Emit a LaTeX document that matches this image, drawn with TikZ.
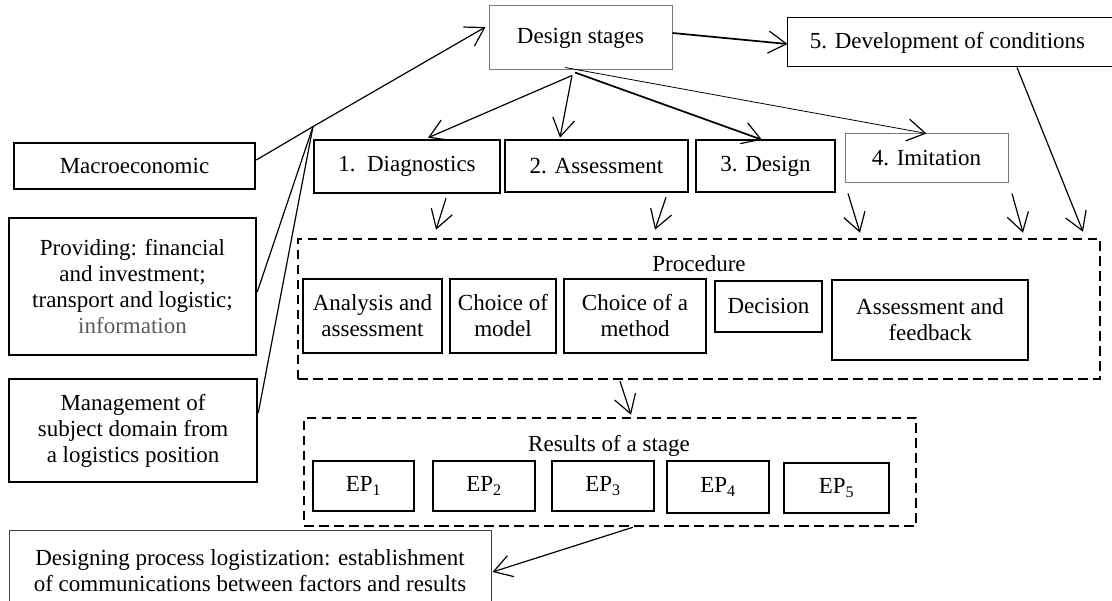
\documentclass[tikz,border=0pt]{standalone}
\usepackage{fontspec}
\setmainfont{Liberation Serif}
\usetikzlibrary{arrows.meta}
\definecolor{infogray}{RGB}{90,90,90}
\definecolor{edgegray}{RGB}{120,120,120}
\begin{document}
\begin{tikzpicture}[x=1pt,y=-1pt,
  font=\fontsize{23}{26}\selectfont,
  wh/.style 2 args={minimum width=#1pt, minimum height=#2pt},
  thickbox/.style={draw, line width=2.5pt, inner sep=0pt, align=center},
  thinbox/.style={draw, line width=1pt, inner sep=0pt, align=center},
  dashbox/.style={draw, line width=2.5pt, dash pattern=on 9.5pt off 5.5pt, inner sep=0pt},
  link/.style={line width=1.2pt},
  arr/.style={line width=1.2pt, -{Straight Barb[length=18pt,width=22pt,line width=1.2pt]}},
]
\useasboundingbox (0,0) rectangle (1112,601);
\clip (0,0) rectangle (1112,601);

% stage header and stage 5
\node[thinbox, draw=edgegray, wh={183}{64}] (ds) at (580.5,38) {\raisebox{3pt}{Design stages}};
\node[thinbox, wh={340}{49}] (dev) at (957,42.5) {5. Development of conditions\hspace*{19pt}};

% factor boxes on the left
\node[thickbox, wh={241}{46}] (macro) at (134.5,166) {Macroeconomic};
\node[thickbox, wh={247}{137}] (prov) at (132.5,286.5) {Providing: financial\\and investment;\\transport and logistic;\\{\color{infogray}information}};
\node[thickbox, wh={248}{103}] (mgmt) at (133,430.5) {Management of\\subject domain from\\a logistics position};
\node[thinbox, draw=darkgray, wh={482}{79}] (dsgn) at (250,570.5) {Designing process logistization: establishment\\of communications between factors and results};

% stages 1-4
\node[thickbox, wh={186}{53}] (diag) at (407,166.5) {1.\ \ Diagnostics};
\node[thickbox, wh={183}{52}] (ass) at (596.5,166) {2. Assessment};
\node[thickbox, wh={139}{52}] (des) at (765.5,166) {3. Design};
\node[thinbox, draw=edgegray, wh={163}{49}] (imi) at (926.5,158.5) {4. Imitation};

% procedure group
\node[dashbox, wh={802}{140}] (proc) at (699,309) {};
\node (proclbl) at (699,264) {Procedure};
\node[thickbox, wh={139}{74}] (ana) at (372.5,316) {Analysis and\\assessment};
\node[thickbox, wh={106}{74}] (cmod) at (503,316) {Choice of\\model};
\node[thickbox, wh={142}{74}] (cmeth) at (635,316) {Choice of a\\method};
\node[thickbox, wh={107}{51}] (dec) at (768.5,306.5) {Decision};
\node[thickbox, wh={196}{80}] (aaf) at (930,320) {Assessment and\\feedback};

% results group
\node[dashbox, wh={612}{108}] (res) at (610,472) {};
\node (reslbl) at (609,446) {Results of a stage};
\node[thickbox, wh={101}{50}] (ep1) at (363.5,486) {EP\textsubscript{1}};
\node[thickbox, wh={102}{50}] (ep2) at (484,486) {EP\textsubscript{2}};
\node[thickbox, wh={102}{50}] (ep3) at (603,486) {EP\textsubscript{3}};
\node[thickbox, wh={102}{52}] (ep4) at (718,487) {EP\textsubscript{4}};
\node[thickbox, wh={105}{50}] (ep5) at (836.5,488) {EP\textsubscript{5}};

% factors converge on one line into the header
\coordinate (j) at (313,126.6);
\draw[arr] ([yshift=6pt]macro.east) -- (j) -- ([xshift=-3pt,yshift=11pt]ds.west);
\draw[link] ([yshift=-5.5pt]prov.east) -- (j);
\draw[link] ([yshift=17.5pt]mgmt.east) -- (j);

% header to stages
\draw[arr, line width=1.7pt] ([yshift=5pt]ds.east) -- ([xshift=1pt,yshift=-1.5pt]dev.west);
\draw[arr] ([xshift=-8.5pt,yshift=-5pt]ds.south) -- ([xshift=21pt,yshift=1pt]diag.north);
\draw[arr] ([xshift=-8.5pt,yshift=-5pt]ds.south) -- ([xshift=-36.5pt,yshift=1pt]ass.north);
\draw[arr, line width=1.7pt] ([xshift=-5.5pt,yshift=-2pt]ds.south) -- ([xshift=-3.5pt,yshift=-1pt]des.north);
\draw[arr, line width=0.8pt] ([xshift=-15.5pt,yshift=3pt]ds.south) -- (imi.north);

% stages to procedure
\draw[arr] ([xshift=60pt]dev.south) -- ([xshift=384pt,yshift=6pt]proc.north);
\draw[arr] ([xshift=39pt,yshift=-4pt]diag.south) -- ([xshift=-263pt,yshift=8pt]proc.north);
\draw[arr] ([xshift=69.5pt,yshift=-4pt]ass.south) -- ([xshift=-44pt,yshift=8pt]proc.north);
\draw[arr] ([xshift=-78.5pt,yshift=-10pt]imi.south) -- ([xshift=161pt,yshift=5pt]proc.north);
\draw[arr] ([xshift=85.5pt,yshift=-10pt]imi.south) -- ([xshift=324pt,yshift=5pt]proc.north);

% procedure to results to logistization
\draw[arr] ([xshift=-79pt,yshift=-1pt]proc.south) -- ([xshift=21pt,yshift=2pt]res.north);
\draw[arr] ([xshift=23pt]res.south) -- ([xshift=1pt,yshift=-1.5pt]dsgn.east);
\end{tikzpicture}
\end{document}
